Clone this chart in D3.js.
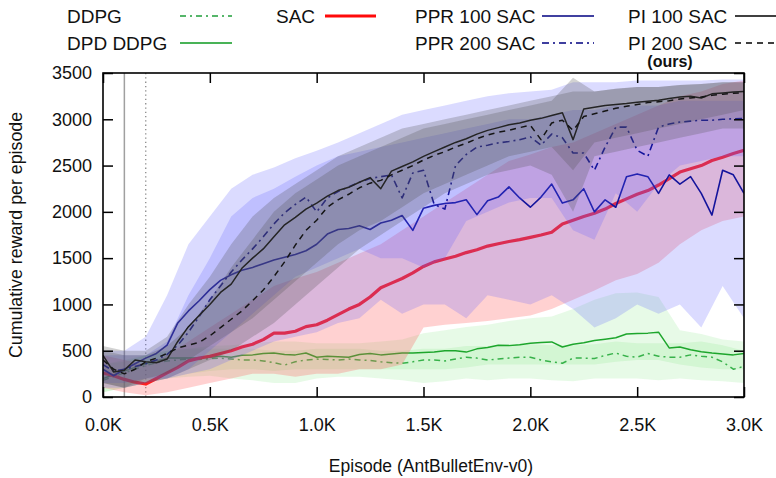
<!DOCTYPE html>
<html><head><meta charset="utf-8">
<script src="https://cdn.jsdelivr.net/npm/d3@7"></script>
<style>body{margin:0;background:#fff}svg{display:block}text{font-family:"Liberation Sans",Arial,sans-serif}</style>
</head><body><svg id="c" width="776" height="478"></svg>
<script>
// ---------- DATA ----------
const epLine = d3.range(0, 3001, 50);   // episodes for mean curves
const epBand = d3.range(0, 3001, 100);  // episodes for bands
const xTicks = [0, 500, 1000, 1500, 2000, 2500, 3000];
const xTickLabels = ["0.0K","0.5K","1.0K","1.5K","2.0K","2.5K","3.0K"];
const yTicks = [0, 500, 1000, 1500, 2000, 2500, 3000, 3500];

const ddpgMean = [180,220,260,300,340,370,390,400,410,405,415,420,410,400,400,390,370,345,380,400,410,405,400,410,400,395,380,370,365,380,400,400,390,410,430,420,400,410,420,430,430,400,380,365,420,420,415,450,475,440,430,470,440,430,430,455,440,430,380,300,330];
const ddpgHi = [350,380,450,500,520,520,520,520,500,500,520,520,520,500,500,520,520,550,550,570,570,560,560,570,600,580,580,580,600,560,500];
const ddpgLo = [50,100,150,200,220,230,200,180,150,150,200,220,220,200,180,150,170,200,180,200,200,180,170,200,200,200,180,200,180,170,150];

const dpdMean = [200,240,280,320,360,390,420,420,420,425,430,440,430,450,455,470,475,460,455,475,430,440,435,430,460,470,455,465,475,475,480,485,500,500,485,520,535,560,555,565,580,590,595,540,570,585,610,625,640,680,685,690,700,530,540,510,490,475,465,455,470];
const dpdHi = [350,400,450,500,520,550,560,580,600,600,580,580,580,600,620,690,720,755,780,820,850,870,950,1050,1120,1130,1080,720,680,620,600];
const dpdLo = [50,100,150,200,250,280,300,300,280,300,300,300,300,300,300,300,300,320,350,350,350,350,350,350,380,400,400,350,320,300,300];

const sacMean = [260,230,190,160,140,200,260,320,390,420,440,470,500,540,570,620,690,690,710,760,780,830,890,950,1000,1080,1180,1230,1280,1340,1410,1460,1490,1520,1560,1590,1630,1655,1680,1700,1725,1750,1780,1870,1910,1950,1985,2030,2090,2140,2190,2230,2290,2360,2430,2465,2500,2555,2590,2630,2665];
const sacHi = [450,400,350,450,600,750,900,1050,1200,1280,1350,1450,1550,1650,1800,1950,2100,2250,2400,2550,2620,2700,2750,2850,2950,3050,3150,3250,3300,3380,3420];
const sacLo = [100,50,20,50,100,150,200,250,250,220,250,250,300,300,350,750,780,800,820,850,880,950,1050,1150,1260,1330,1450,1650,1800,1900,1950];

const ppr100Mean = [300,230,300,360,420,470,560,800,930,1040,1160,1260,1320,1370,1400,1440,1480,1510,1540,1580,1650,1760,1810,1820,1850,1810,1880,1910,1960,1800,2040,2070,2090,2100,2130,1970,2120,2160,2270,2150,2050,2160,2300,2095,2130,2250,2000,2130,2050,2380,2410,2380,2200,2400,2300,2380,2200,1965,2450,2400,2200];
const ppr100Hi = [450,450,450,600,1100,1500,1950,2150,2250,2380,2500,2600,2650,2700,2750,2800,2850,2900,2950,3000,3000,3050,3100,3100,3150,3150,3150,3200,3200,3200,3200];
const ppr100Lo = [100,100,150,200,250,300,400,500,600,650,700,800,850,1050,900,1000,1000,850,1100,1050,1000,1100,950,750,850,1000,900,1000,750,1200,850];

const ppr200Mean = [350,280,300,330,360,400,460,560,700,870,1050,1200,1350,1480,1600,1730,1870,1990,2080,2160,2000,2150,2220,2270,2320,2360,2380,2400,2150,2420,2450,2080,2030,2500,2620,2700,2720,2745,2760,2780,2810,2720,2840,2800,2635,2635,2450,2700,2915,2915,2665,2600,2915,2950,2970,2980,2990,2990,3000,3005,3010];
const ppr200Hi = [500,500,650,1100,1650,1950,2250,2400,2480,2580,2660,2750,2850,2950,3050,3100,3150,3200,3250,3280,3300,3320,3400,3400,3400,3420,3420,3420,3420,3430,3430];
const ppr200Lo = [150,150,200,200,300,500,700,900,1100,1300,1400,1500,1600,1500,1500,1400,1500,1900,2000,2100,2150,2150,1800,1700,2200,2000,2300,2500,2550,2600,2600];

const pi100Mean = [450,270,290,400,380,370,410,600,760,880,1000,1130,1220,1390,1500,1600,1730,1860,1940,2030,2095,2170,2230,2265,2320,2370,2250,2440,2490,2540,2600,2650,2700,2750,2790,2840,2880,2910,2940,2960,2990,3010,3040,3070,2780,3110,3130,3150,3160,3170,3185,3195,3205,3225,3240,3250,3230,3275,3285,3295,3300];
const pi100Hi = [550,500,500,650,1000,1300,1650,1950,2150,2300,2450,2600,2700,2800,2900,2950,3000,3050,3100,3150,3200,3250,3300,3300,3330,3350,3350,3370,3380,3400,3400];
const pi100Lo = [150,100,200,250,400,550,700,850,1050,1250,1450,1650,1800,1900,2050,2200,2300,2400,2500,2600,2650,2700,2450,2750,2800,2850,2900,2950,3000,3050,3100];

const pi200Mean = [400,300,250,300,380,420,470,530,560,590,660,750,840,930,1040,1155,1300,1460,1640,1800,1910,2050,2130,2190,2260,2310,2340,2400,2450,2500,2560,2610,2650,2700,2740,2790,2830,2860,2880,2910,2935,2780,2960,2990,2880,3030,3060,3090,3120,3140,3160,3180,3190,3200,3220,3230,3240,3260,3270,3280,3290];
const pi200Hi = [500,450,450,550,750,1050,1400,1700,2000,2200,2350,2500,2600,2700,2800,2900,2950,3000,3050,3100,3150,3200,3450,3300,3330,3350,3350,3370,3380,3400,3400];
const pi200Lo = [150,100,150,200,300,400,500,650,800,1000,1200,1400,1600,1750,1900,2050,2200,2300,2400,2450,2500,2400,2000,2600,2650,2700,2750,2800,2850,2900,2900];

const seriesNames = ["DDPG","DPD DDPG","SAC","PPR 100 SAC","PPR 200 SAC","PI 100 SAC","PI 200 SAC"];

// ---------- STYLES ----------
const styles = [
  {mean: ddpgMean, hi: ddpgHi, lo: ddpgLo, stroke:"#1f9e3a", width:1.5, dash:"6,4,2,4", band:"#70e070", bandOp:0.17},
  {mean: dpdMean, hi: dpdHi, lo: dpdLo, stroke:"#0d9a1f", width:1.5, dash:null, band:"#70e070", bandOp:0.17},
  {mean: sacMean, hi: sacHi, lo: sacLo, stroke:"#ff0a0a", width:3.2, dash:null, band:"#ff5a5a", bandOp:0.28},
  {mean: ppr100Mean, hi: ppr100Hi, lo: ppr100Lo, stroke:"#000080", width:1.6, dash:null, band:"#5a5aff", bandOp:0.22},
  {mean: ppr200Mean, hi: ppr200Hi, lo: ppr200Lo, stroke:"#000080", width:1.6, dash:"7,4,2,4", band:"#5a5aff", bandOp:0.22},
  {mean: pi100Mean, hi: pi100Hi, lo: pi100Lo, stroke:"#000000", width:1.5, dash:null, band:"#505050", bandOp:0.26},
  {mean: pi200Mean, hi: pi200Hi, lo: pi200Lo, stroke:"#000000", width:1.5, dash:"6,5", band:"#505050", bandOp:0.26}
];

const svg = d3.select("#c");
const L = 103, R = 744, T = 73, B = 397;
const x = d3.scaleLinear().domain([0, 3000]).range([L, R]);
const y = d3.scaleLinear().domain([0, 3500]).range([B, T]);

svg.append("defs").append("clipPath").attr("id","clip")
  .append("rect").attr("x",L).attr("y",T).attr("width",R-L).attr("height",B-T);

const plot = svg.append("g").attr("clip-path","url(#clip)");

// reference vertical lines
plot.append("line").attr("x1",x(100)).attr("x2",x(100)).attr("y1",T).attr("y2",B)
  .attr("stroke","#a0a0a0").attr("stroke-width",1.5);
plot.append("line").attr("x1",x(200)).attr("x2",x(200)).attr("y1",T).attr("y2",B)
  .attr("stroke","#8a8a8a").attr("stroke-width",1.3).attr("stroke-dasharray","1.3,3");

const area = d3.area().x(d => x(d.e)).y0(d => y(d.lo)).y1(d => y(d.hi));
const line = d3.line().x(d => x(d.e)).y(d => y(d.v));

// each series: line, then its band (later bands tint earlier lines)
styles.forEach(s => {
  const md = epLine.map((e,i) => ({e, v: s.mean[i]}));
  const p = plot.append("path").datum(md).attr("d", line)
    .attr("fill","none").attr("stroke", s.stroke).attr("stroke-width", s.width)
    .attr("stroke-linejoin","round");
  if (s.dash) p.attr("stroke-dasharray", s.dash);
  const bd = epBand.map((e,i) => ({e, lo: s.lo[i], hi: s.hi[i]}));
  plot.append("path").datum(bd).attr("d", area)
    .attr("fill", s.band).attr("fill-opacity", s.bandOp).attr("stroke","none");
});

// ---------- AXES ----------
const fmt = d => xTickLabels[xTicks.indexOf(d)];
const gx = svg.append("g").attr("transform",`translate(0,${B})`)
  .call(d3.axisBottom(x).tickValues(xTicks).tickFormat(fmt).tickSize(-10).tickPadding(21));
const gy = svg.append("g").attr("transform",`translate(${L},0)`)
  .call(d3.axisLeft(y).tickValues(yTicks).tickFormat(d3.format("d")).tickSize(-10).tickPadding(11));
const gt = svg.append("g").attr("transform",`translate(0,${T})`)
  .call(d3.axisTop(x).tickValues(xTicks).tickFormat("").tickSize(-10));
const gr = svg.append("g").attr("transform",`translate(${R},0)`)
  .call(d3.axisRight(y).tickValues(yTicks).tickFormat("").tickSize(-10));
[gx,gy,gt,gr].forEach(g => {
  g.select(".domain").remove();
  g.selectAll(".tick line").attr("stroke","#000").attr("stroke-width",1.5);
  g.selectAll("text").attr("font-size",18).attr("fill","#111")
    .attr("font-family",'"Liberation Sans",Arial,sans-serif');
});
svg.append("rect").attr("x",L).attr("y",T).attr("width",R-L).attr("height",B-T)
  .attr("fill","none").attr("stroke","#000").attr("stroke-width",1.6);

// axis titles
svg.append("text").attr("x",431).attr("y",472).attr("text-anchor","middle")
  .attr("font-size",17.5).attr("fill","#111").text("Episode (AntBulletEnv-v0)");
svg.append("text").attr("transform","translate(22,235) rotate(-90)").attr("text-anchor","middle")
  .attr("font-size",17.8).attr("fill","#111").text("Cumulative reward per episode");

// ---------- LEGEND ----------
const legendPos = [
  {tx:67, ty:23, lx1:180, lx2:232, ly:16},
  {tx:67, ty:50, lx1:180, lx2:232, ly:43},
  {tx:276, ty:23, lx1:325, lx2:376, ly:16},
  {tx:415, ty:23, lx1:542, lx2:594, ly:16},
  {tx:415, ty:50, lx1:542, lx2:594, ly:43},
  {tx:628, ty:23, lx1:735, lx2:782, ly:16},
  {tx:628, ty:50, lx1:735, lx2:782, ly:43}
];
const lg = svg.append("g");
seriesNames.forEach((n,i) => {
  const p = legendPos[i], s = styles[i];
  lg.append("text").attr("x",p.tx).attr("y",p.ty).attr("font-size",19).attr("fill","#111").text(n);
  const l = lg.append("line").attr("x1",p.lx1).attr("x2",p.lx2).attr("y1",p.ly).attr("y2",p.ly)
    .attr("stroke", s.stroke).attr("stroke-width", s.width);
  if (s.dash) l.attr("stroke-dasharray", s.dash);
});
lg.append("text").attr("x",670).attr("y",67).attr("text-anchor","middle")
  .attr("font-size",16).attr("font-weight","bold").attr("fill","#111").text("(ours)");
</script></body></html>
